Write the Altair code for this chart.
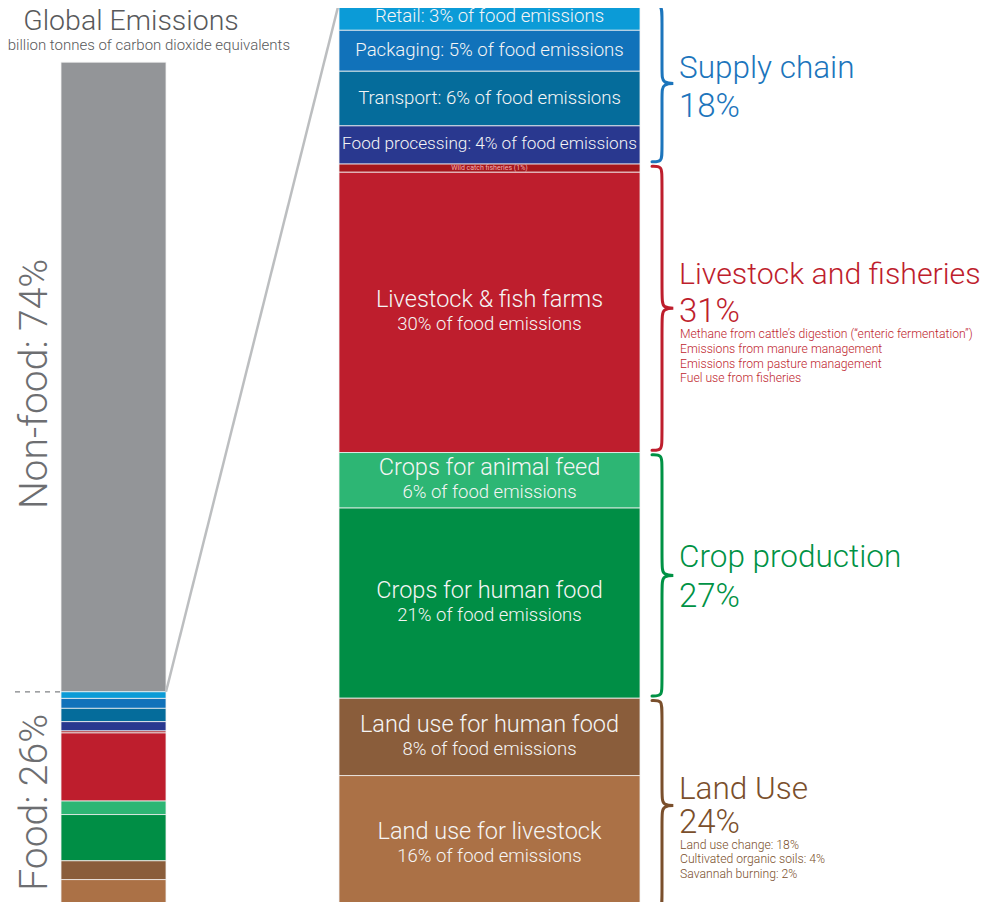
import altair as alt
import pandas as pd

# ---------------- data ----------------
segment_names = ["Retail", "Packaging", "Transport", "Food processing", "Wild catch fisheries",
                 "Livestock & fish farms", "Crops for animal feed", "Crops for human food",
                 "Land use for human food", "Land use for livestock"]
segment_titles = ["Retail: 3% of food emissions", "Packaging: 5% of food emissions",
                  "Transport: 6% of food emissions", "Food processing: 4% of food emissions",
                  "Wild catch fisheries (1%)", "Livestock & fish farms", "Crops for animal feed",
                  "Crops for human food", "Land use for human food", "Land use for livestock"]
segment_subtitles = ["", "", "", "", "", "30% of food emissions", "6% of food emissions",
                     "21% of food emissions", "8% of food emissions", "16% of food emissions"]
segment_shares = [3.0, 4.5, 6.0, 4.2, 0.9, 30.8, 6.1, 20.9, 8.5, 15.1]
segment_groups = (["Supply chain"] * 4 + ["Livestock and fisheries"] * 2 +
                  ["Crop production"] * 2 + ["Land Use"] * 2)
segment_colors = ["#0b9bd7", "#1172ba", "#056c9b", "#29388f", "#a5161c",
                  "#be1e2d", "#2db674", "#008e45", "#8a5d3b", "#ab7146"]

group_names = ["Supply chain", "Livestock and fisheries", "Crop production", "Land Use"]
group_pcts = ["18%", "31%", "27%", "24%"]
group_colors = ["#1c75bc", "#be1e2d", "#009245", "#7a4f2c"]
group_details = [
    [],
    ["Methane from cattle\u2019s digestion (\u201centeric fermentation\u201d)",
     "Emissions from manure management",
     "Emissions from pasture management",
     "Fuel use from fisheries"],
    [],
    ["Land use change: 18%", "Cultivated organic soils: 4%", "Savannah burning: 2%"],
]

global_names = ["Non-food", "Food"]
global_labels = ["Non-food: 74%", "Food: 26%"]
global_shares = [74, 26]
global_color_nonfood = "#939598"

title_text = "Global Emissions"
subtitle_text = "52.3 billion tonnes of carbon dioxide equivalents"

# ---------------- layout (reference pixel coords) ----------------
OFF = 8                 # page margin
W, H = 981, 894
BASE_Y = 913            # y of the 0 line
PX = 9.1                # pixels per unit
LEFT_FRACTION = 0.935   # left bar height relative to right bar
LEFT_X = (61, 166)
RIGHT_X = (339, 640)
FONT = "Roboto"
TXT_W = 300


def px(v):
    return v - OFF


yscale = alt.Scale(domain=[0, 100], range=[BASE_Y - OFF, BASE_Y - 100 * PX - OFF])
xscale = alt.Scale(domain=[OFF, OFF + W], range=[0, W])


def Y(field):
    return alt.Y(f"{field}:Q", scale=yscale, axis=None)


# ---------------- derived tables ----------------
right = pd.DataFrame({"name": segment_names, "title": segment_titles, "sub": segment_subtitles,
                      "share": segment_shares, "group": segment_groups, "color": segment_colors})
right["top"] = 100 - right["share"].cumsum().shift(fill_value=0)
right["bot"] = right["top"] - right["share"]
right["mid"] = (right["top"] + right["bot"]) / 2

food_share = global_shares[1]
left_food = right[["name", "color", "share"]].copy()
left_food["g"] = left_food["share"] * food_share / 100 * LEFT_FRACTION
left_food["top"] = food_share * LEFT_FRACTION - left_food["g"].cumsum().shift(fill_value=0)
left_food["bot"] = left_food["top"] - left_food["g"]
left_non = pd.DataFrame({"name": ["Non-food"], "color": [global_color_nonfood],
                         "top": [100 * LEFT_FRACTION],
                         "bot": [food_share * LEFT_FRACTION]})
left = pd.concat([left_non, left_food[["name", "color", "top", "bot"]]], ignore_index=True)

global_df = pd.DataFrame({"name": global_names, "label": global_labels,
                          "top": [100 * LEFT_FRACTION, food_share * LEFT_FRACTION],
                          "bot": [food_share * LEFT_FRACTION, 0]})
global_df["mid"] = (global_df["top"] + global_df["bot"]) / 2

# groups
gext = right.groupby("group", sort=False).agg(top=("top", "max"), bot=("bot", "min")).reindex(group_names)
gext["c"] = (gext["top"] + gext["bot"]) / 2

PCT_OFF = {"Supply chain": 23, "Livestock and fisheries": 4, "Crop production": 22, "Land Use": 17}
TITLE_GAP = {"Supply chain": 38, "Livestock and fisheries": 37, "Crop production": 39, "Land Use": 33}

glabel_rows, gdetail_rows, brace_rows = [], [], []
XE, XM, XT, D, INSET = 652, 662, 679, 1.1, 0.25
for name, pct, col, det in zip(group_names, group_pcts, group_colors, group_details):
    t, b, c = gext.loc[name, "top"], gext.loc[name, "bot"], gext.loc[name, "c"]
    pct_y = c - PCT_OFF[name] / PX
    title_y = pct_y + TITLE_GAP[name] / PX
    glabel_rows.append({"group": name, "text": name, "y": title_y, "color": col, "kind": "title"})
    glabel_rows.append({"group": name, "text": pct, "y": pct_y, "color": col, "kind": "pct"})
    for i, line in enumerate(det):
        gdetail_rows.append({"group": name, "text": line, "color": col,
                             "y": pct_y - (22 + 14.6 * i) / PX})
    tt, bb = t - INSET, b + INSET
    xs = [XE, XM, XM, XM, XM, XT, XM, XM, XM, XM, XE]
    ys = [tt, tt, tt - D, c + D, c, c, c, c - D, bb + D, bb, bb]
    for k, (xx, yy) in enumerate(zip(xs, ys)):
        brace_rows.append({"group": name, "order": k, "bx": xx, "by": yy, "color": col})

glabels = pd.DataFrame(glabel_rows)
gtitles = glabels[glabels["kind"] == "title"]
gtitles_short = gtitles[gtitles["text"].str.len() <= 20]
gtitles_long = gtitles[gtitles["text"].str.len() > 20]
gpcts = glabels[glabels["kind"] == "pct"]
gdetails = pd.DataFrame(gdetail_rows)
braces = pd.DataFrame(brace_rows)

# ---------------- marks ----------------
bar_left = alt.Chart(left).mark_rect(stroke="#f2f2f2", strokeWidth=0.8).encode(
    x=alt.value(px(LEFT_X[0])), x2=alt.value(px(LEFT_X[1])),
    y=Y("top"), y2=alt.Y2("bot"), color=alt.Color("color:N", scale=None))

bar_right = alt.Chart(right).mark_rect(stroke="#f2f2f2", strokeWidth=0.8).encode(
    x=alt.value(px(RIGHT_X[0])), x2=alt.value(px(RIGHT_X[1])),
    y=Y("top"), y2=alt.Y2("bot"), color=alt.Color("color:N", scale=None))

conn_df = pd.DataFrame({"y": [food_share * LEFT_FRACTION], "y2": [100]})
connector = alt.Chart(conn_df).mark_rule(color="#bcbec0", strokeWidth=2.5).encode(
    x=alt.value(px(LEFT_X[1])), x2=alt.value(px(RIGHT_X[0])),
    y=Y("y"), y2=alt.Y2("y2"))

dashed = alt.Chart(conn_df).mark_rule(color="#808285", strokeWidth=1.2, strokeDash=[5, 5]).encode(
    x=alt.value(px(15)), x2=alt.value(px(60)), y=Y("y"))

brace_layer = alt.Chart(braces).mark_line(interpolate="basis", strokeWidth=3, strokeCap="round").encode(
    x=alt.X("bx:Q", scale=xscale, axis=None), y=Y("by"),
    detail="group:N", order="order:Q", color=alt.Color("color:N", scale=None))

cx = px((RIGHT_X[0] + RIGHT_X[1]) / 2)
single_all = right[(right["sub"] == "") & (right["share"] >= 2)]
single = single_all[single_all["title"].str.len() <= 32]
single_long = single_all[single_all["title"].str.len() > 32]
tiny = right[(right["sub"] == "") & (right["share"] < 2)]
double = right[right["sub"] != ""]

TXT_COL = "#f5f5f5"
seg_single = alt.Chart(single).mark_text(font=FONT, fontWeight=TXT_W, fontSize=18.6, color=TXT_COL,
                                          align="center", baseline="middle", dy=-1).encode(
    x=alt.value(cx), y=Y("mid"), text="title:N")
seg_single_long = alt.Chart(single_long).mark_text(font=FONT, fontWeight=TXT_W, fontSize=17.2,
                                                    color=TXT_COL, align="center", baseline="middle",
                                                    dy=-1).encode(
    x=alt.value(cx), y=Y("mid"), text="title:N")
seg_tiny = alt.Chart(tiny).mark_text(font=FONT, fontSize=7, color="#f3b2b2",
                                      align="center", baseline="middle").encode(
    x=alt.value(cx), y=Y("mid"), text="title:N")
seg_title = alt.Chart(double).mark_text(font=FONT, fontWeight=TXT_W, fontSize=23.5, color=TXT_COL,
                                         align="center", baseline="middle", dy=-12).encode(
    x=alt.value(cx), y=Y("mid"), text="title:N")
seg_sub = alt.Chart(double).mark_text(font=FONT, fontWeight=TXT_W, fontSize=18.5, color=TXT_COL,
                                       align="center", baseline="middle", dy=12).encode(
    x=alt.value(cx), y=Y("mid"), text="sub:N")

group_title = alt.Chart(gtitles_short).mark_text(font=FONT, fontWeight=TXT_W, fontSize=31.5,
                                                  align="left", baseline="middle").encode(
    x=alt.value(px(679)), y=Y("y"), text="text:N", color=alt.Color("color:N", scale=None))
group_title_long = alt.Chart(gtitles_long).mark_text(font=FONT, fontWeight=TXT_W, fontSize=30.3,
                                                      align="left", baseline="middle").encode(
    x=alt.value(px(679)), y=Y("y"), text="text:N", color=alt.Color("color:N", scale=None))
group_pct = alt.Chart(gpcts).mark_text(font=FONT, fontWeight=TXT_W, fontSize=33,
                                        align="left", baseline="middle").encode(
    x=alt.value(px(679)), y=Y("y"), text="text:N", color=alt.Color("color:N", scale=None))
group_det = alt.Chart(gdetails).mark_text(font=FONT, fontWeight=TXT_W, fontSize=12.2,
                                           align="left", baseline="middle").encode(
    x=alt.value(px(680)), y=Y("y"), text="text:N", color=alt.Color("color:N", scale=None))

nonfood_lbl = alt.Chart(global_df[global_df["name"] == "Non-food"]).mark_text(
    font=FONT, fontWeight=TXT_W, fontSize=39, angle=270, color="#6d6e71",
    align="center", baseline="middle", dx=-7).encode(
    x=alt.value(px(35)), y=Y("mid"), text="label:N")
food_lbl = alt.Chart(global_df[global_df["name"] == "Food"]).mark_text(
    font=FONT, fontWeight=TXT_W, fontSize=39, angle=270, color="#6d6e71",
    align="center", baseline="middle").encode(
    x=alt.value(px(35)), y=Y("mid"), text="label:N")

head_df = pd.DataFrame({"t": [title_text], "s": [subtitle_text]})
head_title = alt.Chart(head_df).mark_text(font=FONT, fontWeight=TXT_W, fontSize=28.5, color="#58595b",
                                           align="center", baseline="alphabetic").encode(
    x=alt.value(px(131)), y=alt.value(px(29.5)), text="t:N")
head_sub = alt.Chart(head_df).mark_text(font=FONT, fontWeight=TXT_W, fontSize=15, color="#58595b",
                                         align="right", baseline="middle").encode(
    x=alt.value(px(290)), y=alt.value(px(45)), text="s:N")

chart = alt.layer(
    bar_left, bar_right, connector, dashed, brace_layer,
    seg_single, seg_single_long, seg_tiny, seg_title, seg_sub,
    group_title, group_title_long, group_pct, group_det,
    nonfood_lbl, food_lbl, head_title, head_sub,
).properties(width=W, height=H, padding=0, autosize="none", background="white"
).configure_view(stroke=None)

chart.save("out.html", embed_options={"renderer": "svg", "actions": False})
